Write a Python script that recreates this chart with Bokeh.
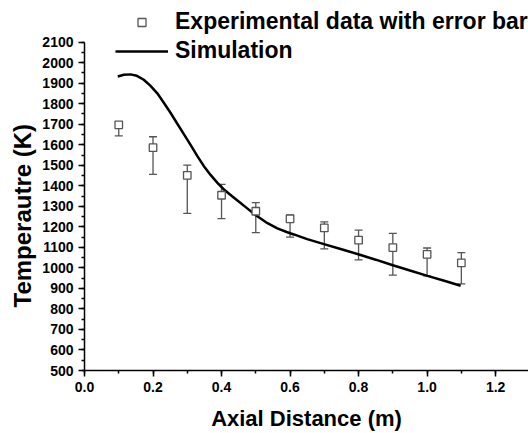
from bokeh.plotting import figure
from bokeh.models import (ColumnDataSource, Whisker, TeeHead, Legend, LegendItem,
                          SingleIntervalTicker, Range1d, CustomJSTickFormatter, Title)
from bokeh.embed import file_html
from bokeh.resources import INLINE

# Experimental data (Axial distance in m, temperature in K)
exp_x = [0.1, 0.2, 0.3, 0.4, 0.5, 0.6, 0.7, 0.8, 0.9, 1.0, 1.1]
exp_y = [1697, 1586, 1451, 1354, 1276, 1239, 1195, 1135, 1099, 1066, 1024]
exp_upper = [1711, 1639, 1501, 1407, 1318, 1258, 1224, 1184, 1168, 1097, 1074]
exp_lower = [1643, 1456, 1266, 1240, 1172, 1150, 1093, 1039, 965, 961, 922]

# Simulation curve
sim_x = [0.097, 0.115, 0.134, 0.153, 0.173, 0.192, 0.212, 0.231, 0.251, 0.270,
         0.290, 0.310, 0.329, 0.348, 0.368, 0.388, 0.407, 0.430, 0.451, 0.475,
         0.499, 0.530, 0.563, 0.590, 0.611, 0.650, 0.699, 0.750, 0.806, 0.850,
         0.900, 0.950, 1.001, 1.050, 1.098]
sim_y = [1933, 1941, 1943, 1936, 1917, 1888, 1852, 1806, 1756, 1705,
         1652, 1598, 1546, 1497, 1453, 1414, 1382, 1350, 1322, 1290,
         1258, 1222, 1193, 1175, 1163, 1140, 1116, 1091, 1063, 1040,
         1013, 987, 961, 937, 913]

x_ticks_interval = 0.2
y_ticks_interval = 100

FONT = "Liberation Sans"
GRAY = "#555555"

p = figure(width=528, height=433, output_backend="svg", toolbar_location=None,
           x_range=Range1d(0, 1.296), y_range=Range1d(500, 2303),
           min_border_left=84, min_border_right=0, min_border_top=0,
           min_border_bottom=62)
p.outline_line_color = None
p.grid.visible = False
p.background_fill_color = "white"
p.border_fill_color = "white"

src = ColumnDataSource(dict(x=exp_x, y=exp_y, upper=exp_upper, lower=exp_lower))
wh = Whisker(source=src, base="x", upper="upper", lower="lower",
             line_color=GRAY, line_width=1.3,
             upper_head=TeeHead(size=8, line_color=GRAY, line_width=1.3),
             lower_head=TeeHead(size=8, line_color=GRAY, line_width=1.3))
p.add_layout(wh)

sim_r = p.line(sim_x, sim_y, line_color="black", line_width=2.5)
exp_r = p.scatter("x", "y", source=src, marker="square", size=7.5,
                  fill_color="white", line_color=GRAY, line_width=1.3)

legend = Legend(items=[LegendItem(label="Experimental data with error bar", renderers=[exp_r]),
                       LegendItem(label="Simulation", renderers=[sim_r])],
                location=(31, 306), padding=0, margin=0, spacing=2,
                glyph_width=53, glyph_height=20, label_height=20, label_standoff=7,
                border_line_color=None, background_fill_alpha=0,
                label_text_font=FONT, label_text_font_style="bold",
                label_text_font_size="23px", label_text_color="black")
p.add_layout(legend)

for ax in (p.xaxis[0], p.yaxis[0]):
    ax.axis_line_width = 1.5
    ax.axis_line_color = "black"
    ax.major_tick_line_width = 1.5
    ax.minor_tick_line_width = 1.5
    ax.major_tick_out = 6
    ax.major_tick_in = 0
    ax.minor_tick_out = 3
    ax.minor_tick_in = 0
    ax.major_label_text_font = FONT
    ax.major_label_text_font_style = "bold"
    ax.major_label_text_font_size = "14px"
    ax.major_label_text_color = "black"
    ax.axis_label_text_font = FONT
    ax.axis_label_text_font_style = "bold"
    ax.axis_label_text_color = "black"
    ax.major_label_standoff = 5

p.xaxis.ticker = SingleIntervalTicker(interval=x_ticks_interval, num_minor_ticks=2)
p.yaxis.ticker = SingleIntervalTicker(interval=y_ticks_interval, num_minor_ticks=2)
p.yaxis.bounds = (500, 2100)
p.xaxis.axis_label = "Axial Distance (m)"
p.xaxis.axis_label_text_font_size = "22px"
p.xaxis.axis_label_standoff = 11
p.xaxis.formatter = CustomJSTickFormatter(code="return tick.toFixed(1);")

ytitle = Title(text="Temperautre (K)", align="left", offset=63, standoff=7,
               text_font=FONT, text_font_style="bold", text_font_size="24px",
               text_color="black")
p.add_layout(ytitle, "left")

open("out.html", "w").write(file_html(p, INLINE))
